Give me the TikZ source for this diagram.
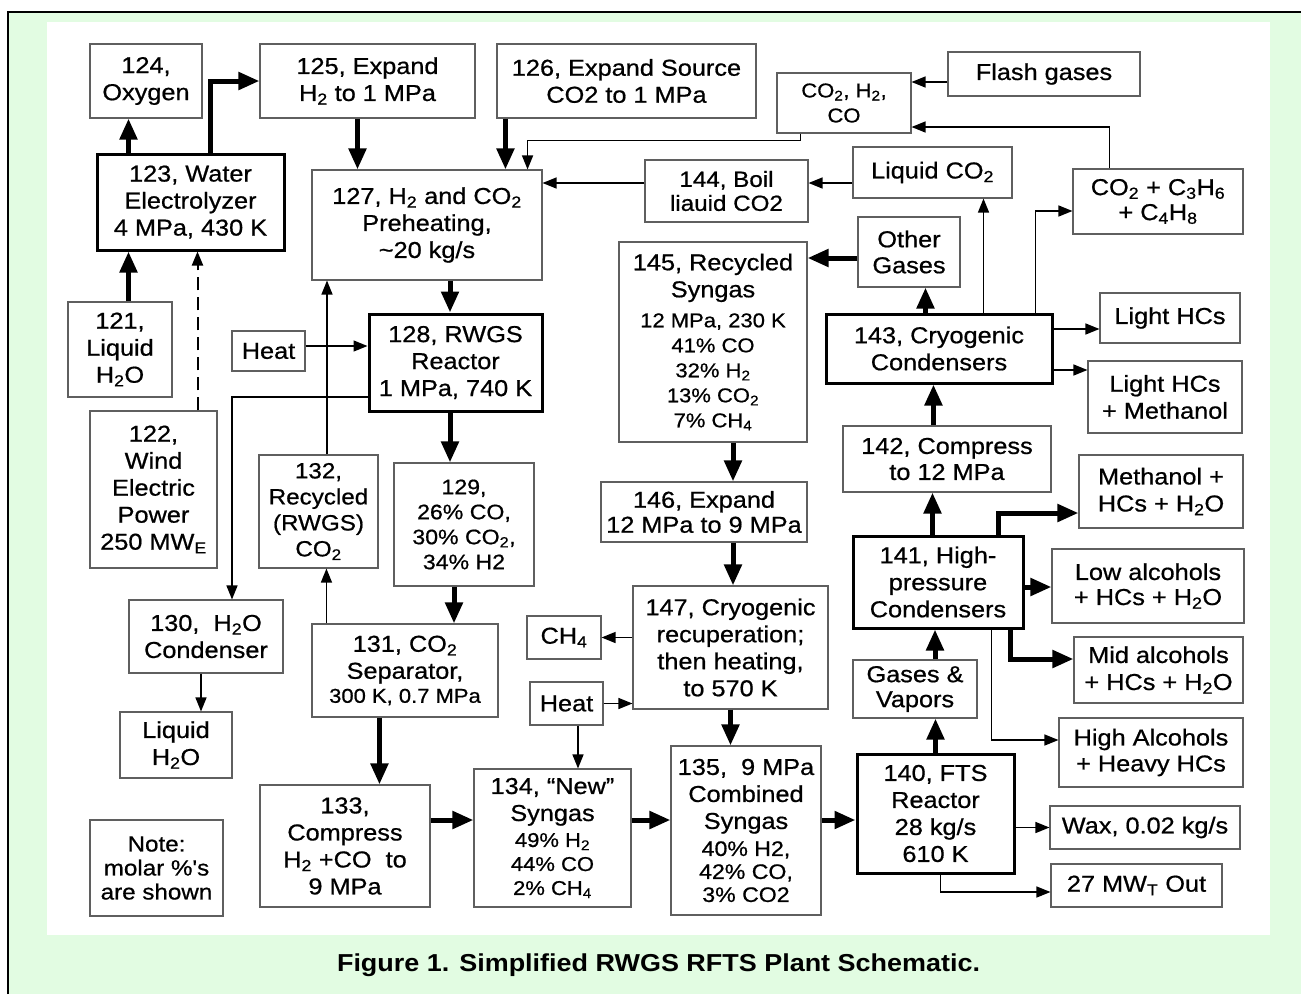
\documentclass[tikz,border=0pt]{standalone}
\usepackage{fontspec}
\setmainfont[FakeStretch=1.1]{Liberation Sans}
\newfontfamily\boxfont[FakeStretch=1.1,FakeBold=0.7]{Liberation Sans}
\usetikzlibrary{arrows.meta}
\definecolor{bggreen}{RGB}{226,252,226}
\definecolor{boxgray}{RGB}{95,95,95}
\newcommand\sm{\fontsize{20}{24}\selectfont}
\tikzset{
  bx/.style={draw=boxgray, line width=1.1pt, fill=white, align=center, inner sep=0pt,
    font=\boxfont\fontsize{23}{27}\selectfont},
  tbx/.style={bx, draw=black, line width=3pt},
  thinarrow/.style={line width=1.4pt, -{Triangle[length=14pt,width=11pt]}},
  thickarrow/.style={line width=5pt, -{Triangle[length=21pt,width=17pt]}},
}
\begin{document}
\begin{tikzpicture}[x=1pt,y=-1pt]
\useasboundingbox (0,0) rectangle (1301,994);
\fill[white] (0,0) rectangle (1301,994);
\fill[bggreen] (8,12) rectangle (1301,994);
\draw[line width=2pt] (8,994) -- (8,12) -- (1301,12);
\fill[white] (47,22) rectangle (1270,935);

% left column
\node[bx, minimum width=112pt, minimum height=74pt] (b124) at (146,81) {124,\\Oxygen};
\node[tbx, minimum width=187pt, minimum height=96pt] (b123) at (190.5,202) {123, Water\\Electrolyzer\\4 MPa, 430 K};
\node[bx, minimum width=104pt, minimum height=95pt] (b121) at (120,349.5) {121,\\Liquid\\H\textsubscript{2}O};
\node[bx, minimum width=127pt, minimum height=157pt] (b122) at (153.5,489.5) {122,\\Wind\\Electric\\Power\\250 MW\textsubscript{E}};
\node[bx, minimum width=73pt, minimum height=40pt] (bheatA) at (268.5,351) {Heat};
\node[bx, minimum width=154pt, minimum height=73pt] (b130) at (206,636.5) {130,~~H\textsubscript{2}O\\Condenser};
\node[bx, minimum width=112pt, minimum height=66pt] (bliqw) at (176,745) {Liquid\\H\textsubscript{2}O};
\node[bx, minimum width=133pt, minimum height=96pt, font=\boxfont\fontsize{22}{24}\selectfont] (bnote) at (156.5,868) {Note:\\molar \%'s\\are shown};

% second column
\node[bx, minimum width=215pt, minimum height=74pt] (b125) at (367.5,81) {125, Expand\\H\textsubscript{2} to 1 MPa};
\node[bx, minimum width=259pt, minimum height=74pt] (b126) at (626.5,81) {126, Expand Source\\CO2 to 1 MPa};
\node[bx, minimum width=230pt, minimum height=110pt] (b127) at (427,225) {127, H\textsubscript{2} and CO\textsubscript{2}\\Preheating,\\\textasciitilde20 kg/s};
\node[tbx, minimum width=173pt, minimum height=97pt] (b128) at (455.5,362.5) {128, RWGS\\Reactor\\1 MPa, 740 K};
\node[bx, minimum width=119pt, minimum height=113pt, font=\boxfont\fontsize{22}{26}\selectfont] (b132) at (318.5,511.5) {132,\\Recycled\\(RWGS)\\CO\textsubscript{2}};
\node[bx, minimum width=140pt, minimum height=123pt, font=\boxfont\fontsize{21}{25}\selectfont] (b129) at (464,524.5) {129,\\26\% CO,\\30\% CO\textsubscript{2},\\34\% H2};
\node[bx, minimum width=186pt, minimum height=93pt] (b131) at (405,670.5) {131, CO\textsubscript{2}\\Separator,\\[-3pt]{\sm 300 K, 0.7 MPa}};
\node[bx, minimum width=170pt, minimum height=122pt] (b133) at (345,846) {133,\\Compress\\H\textsubscript{2} +CO~~to\\9 MPa};

% middle
\node[bx, minimum width=134pt, minimum height=60pt, font=\boxfont\fontsize{20}{25}\selectfont] (bmix) at (844,103) {CO\textsubscript{2}, H\textsubscript{2},\\CO};
\node[bx, minimum width=163pt, minimum height=62pt, font=\boxfont\fontsize{22}{24}\selectfont] (b144) at (726.5,191) {144, Boil\\liauid CO2};
\node[bx, minimum width=188pt, minimum height=200pt] (b145) at (713,342) {145, Recycled\\Syngas\\[3pt]{\sm 12 MPa, 230 K}\\[-2pt]{\sm 41\% CO}\\[-2pt]{\sm 32\% H\textsubscript{2}}\\[-2pt]{\sm 13\% CO\textsubscript{2}}\\[-2pt]{\sm 7\% CH\textsubscript{4}}};
\node[bx, minimum width=206pt, minimum height=60pt, font=\boxfont\fontsize{23}{25}\selectfont] (b146) at (704,512) {146, Expand\\12 MPa to 9 MPa};
\node[bx, minimum width=195pt, minimum height=123pt] (b147) at (730.5,647.5) {147, Cryogenic\\recuperation;\\then heating,\\to 570 K};
\node[bx, minimum width=74pt, minimum height=43pt] (bch4) at (564,637.5) {CH\textsubscript{4}};
\node[bx, minimum width=73pt, minimum height=43pt] (bheatB) at (566.5,703.5) {Heat};
\node[bx, minimum width=157pt, minimum height=138pt] (b134) at (552.5,838) {134, “New”\\Syngas\\[-1pt]{\sm 49\% H\textsubscript{2}}\\[-3pt]{\sm 44\% CO}\\[-3pt]{\sm 2\% CH\textsubscript{4}}};
\node[bx, minimum width=150pt, minimum height=169pt] (b135) at (746,830.5) {135,~~9 MPa\\Combined\\Syngas\\{\fontsize{21}{24}\selectfont 40\% H2,}\\[-4pt]{\fontsize{21}{24}\selectfont 42\% CO,}\\[-4pt]{\fontsize{21}{24}\selectfont 3\% CO2}};

% right
\node[bx, minimum width=192pt, minimum height=44pt] (bflash) at (1044,74) {Flash gases};
\node[bx, minimum width=159pt, minimum height=51pt] (bliq) at (932.5,172.5) {Liquid CO\textsubscript{2}};
\node[bx, minimum width=170pt, minimum height=65pt, font=\boxfont\fontsize{23}{25}\selectfont] (bc3) at (1158,201.5) {CO\textsubscript{2} + C\textsubscript{3}H\textsubscript{6}\\+ C\textsubscript{4}H\textsubscript{8}};
\node[bx, minimum width=102pt, minimum height=70pt, font=\boxfont\fontsize{23}{26}\selectfont] (bother) at (909,252) {Other\\Gases};
\node[tbx, minimum width=226pt, minimum height=69pt] (b143) at (939,348.5) {143, Cryogenic\\Condensers};
\node[bx, minimum width=208pt, minimum height=66pt, font=\boxfont\fontsize{23}{26}\selectfont] (b142) at (947,459) {142, Compress\\to 12 MPa};
\node[tbx, minimum width=170pt, minimum height=92pt] (b141) at (938,582) {141, High-\\pressure\\Condensers};
\node[bx, minimum width=124pt, minimum height=58pt, font=\boxfont\fontsize{23}{25}\selectfont] (bgv) at (915,689) {Gases \&\\Vapors};
\node[tbx, minimum width=157pt, minimum height=119pt] (b140) at (935.5,813.5) {140, FTS\\Reactor\\28 kg/s\\610 K};
\node[bx, minimum width=140pt, minimum height=50pt] (blhc) at (1170,318) {Light HCs};
\node[bx, minimum width=154pt, minimum height=72pt] (blhcm) at (1165,397) {Light HCs\\+ Methanol};
\node[bx, minimum width=164pt, minimum height=73pt] (bmeth) at (1161,491.5) {Methanol +\\HCs + H\textsubscript{2}O};
\node[bx, minimum width=192pt, minimum height=74pt, font=\boxfont\fontsize{23}{25}\selectfont] (blow) at (1148,586) {Low alcohols\\+ HCs + H\textsubscript{2}O};
\node[bx, minimum width=169pt, minimum height=66pt] (bmid) at (1158.5,670) {Mid alcohols\\+ HCs + H\textsubscript{2}O};
\node[bx, minimum width=184pt, minimum height=69pt, font=\boxfont\fontsize{23}{26}\selectfont] (bhigh) at (1151,752.5) {High Alcohols\\+ Heavy HCs};
\node[bx, minimum width=190pt, minimum height=43pt] (bwax) at (1145,827.5) {Wax, 0.02 kg/s};
\node[bx, minimum width=171pt, minimum height=43pt] (bmw) at (1136.5,885.5) {27 MW\textsubscript{T} Out};

% caption
\node[font=\fontsize{24.5}{28}\selectfont\bfseries, inner sep=0pt, anchor=base] (cap) at (658.5,971) {Figure 1. Simplified RWGS RFTS Plant Schematic.};

% connectors
\draw[thickarrow] ([xshift=33pt]b123.north west) -- ([xshift=33pt]b123.north west |- b124.south);
\draw[thickarrow] ([xshift=33pt]b123.south west |- b121.north) -- ([xshift=33pt]b123.south west);
\draw[line width=2pt, dash pattern=on 13pt off 7pt] ([xshift=102pt]b123.south west |- b122.north) -- ([xshift=102pt,yshift=-14pt]b123.south west);
\draw[thinarrow, line width=2pt] ([xshift=102pt,yshift=-14pt]b123.south west) -- ([xshift=102pt]b123.south west);
\draw[thickarrow] ([xshift=115pt]b123.north west) |- (b125.west);
\draw[thickarrow] ([xshift=-10pt]b125.south) -- ([xshift=-10pt]b125.south |- b127.north);
\draw[thickarrow] ([xshift=9pt]b126.south west) -- ([xshift=9pt]b126.south west |- b127.north);
\draw[thinarrow] ([xshift=24pt]bmix.south west) -- ++(0,7) -| ([xshift=-15pt]b127.north east);
\draw[thinarrow] ([yshift=8pt]b144.west) -- ([yshift=8pt]b144.west -| b127.east);
\draw[thinarrow] ([yshift=8pt]b144.east -| bliq.west) -- ([yshift=8pt]b144.east);
\draw[thinarrow] ([yshift=-8pt]bflash.west) -- ([yshift=-8pt]bflash.west -| bmix.east);
\draw[thinarrow] ([xshift=37pt]bc3.north west) |- ([yshift=-24pt]bmix.east);
\draw[thickarrow] ([yshift=-6pt]bother.west) -- ([yshift=-6pt]bother.west -| b145.east);
\draw[thickarrow] ([xshift=101pt]b143.north west) -- ([xshift=101pt]b143.north west |- bother.south);
\draw[thinarrow] ([xshift=159pt]b143.north west) -- ([xshift=159pt]b143.north west |- bliq.south);
\draw[thinarrow] ([xshift=211pt]b143.north west) |- ([yshift=-9.5pt]bc3.west);
\draw[thinarrow] ([yshift=19.5pt]b143.east) -- ([yshift=19.5pt]b143.east -| blhc.west);
\draw[thinarrow] ([yshift=-21.5pt]b143.east) -- ([yshift=-21.5pt]b143.east -| blhcm.west);
\draw[thickarrow] ([xshift=91pt]b142.north west) -- ([xshift=91pt]b142.north west |- b143.south);
\draw[thickarrow] ([xshift=81pt]b141.north west) -- ([xshift=81pt]b141.north west |- b142.south);
\draw[thickarrow] ([xshift=20pt]bgv.north) -- ([xshift=20pt]bgv.north |- b141.south);
\draw[thickarrow] (b140.north) -- (b140.north |- bgv.south);
\draw[thickarrow] ([xshift=147pt]b141.north west) |- ([yshift=-21.5pt]bmeth.west);
\draw[thickarrow] ([yshift=-5pt]b141.east) -- ([yshift=-5pt]b141.east -| blow.west);
\draw[thickarrow] ([xshift=159pt]b141.south west) |- ([yshift=11pt]bmid.west);
\draw[thinarrow] ([xshift=140pt]b141.south west) |- ([yshift=12.5pt]bhigh.west);
\draw[thinarrow] (b140.east |- bwax.west) -- (bwax.west);
\draw[thinarrow] ([xshift=85pt]b140.south west) |- ([yshift=-6.5pt]bmw.west);
\draw[thickarrow] ([yshift=10.5pt]b135.east) -- ([yshift=10.5pt]b135.east -| b140.west);
\draw[thickarrow] ([yshift=18pt]b134.east) -- ([yshift=18pt]b134.east -| b135.west);
\draw[thickarrow] ([yshift=26pt]b133.east) -- ([yshift=26pt]b133.east -| b134.west);
\draw[thickarrow] (b147.south) -- (b147.south |- b135.north);
\draw[thickarrow] ([xshift=29pt]b146.south) -- ([xshift=29pt]b146.south |- b147.north);
\draw[thickarrow] ([xshift=20pt]b145.south) -- ([xshift=20pt]b145.south |- b146.north);
\draw[thinarrow] (b147.west |- bch4.east) -- (bch4.east);
\draw[thinarrow] (bheatB.east) -- (bheatB.east -| b147.west);
\draw[thinarrow] ([xshift=11.5pt]bheatB.south) -- ([xshift=11.5pt]bheatB.south |- b134.north);
\draw[thickarrow] ([xshift=-5.5pt]b128.south) -- ([xshift=-5.5pt]b128.south |- b129.north);
\draw[thickarrow] ([xshift=23pt]b127.south) -- ([xshift=23pt]b127.south |- b128.north);
\draw[thinarrow] ([yshift=5pt]bheatA.east) -- ([yshift=5pt]bheatA.east -| b128.west);
\draw[thinarrow] ([xshift=8.5pt]b132.north) -- ([xshift=8.5pt]b132.north |- b127.south);
\draw[thinarrow] ([yshift=-34.5pt]b128.west) -| ([xshift=26pt]b130.north);
\draw[thickarrow] ([xshift=-10pt]b129.south) -- ([xshift=-10pt]b129.south |- b131.north);
\draw[thinarrow] ([xshift=15pt]b131.north west) -- ([xshift=15pt]b131.north west |- b132.south);
\draw[thickarrow] ([xshift=68pt]b131.south west) -- ([xshift=68pt]b131.south west |- b133.north);
\draw[thinarrow] ([xshift=-5pt]b130.south) -- ([xshift=-5pt]b130.south |- bliqw.north);
\end{tikzpicture}
\end{document}
